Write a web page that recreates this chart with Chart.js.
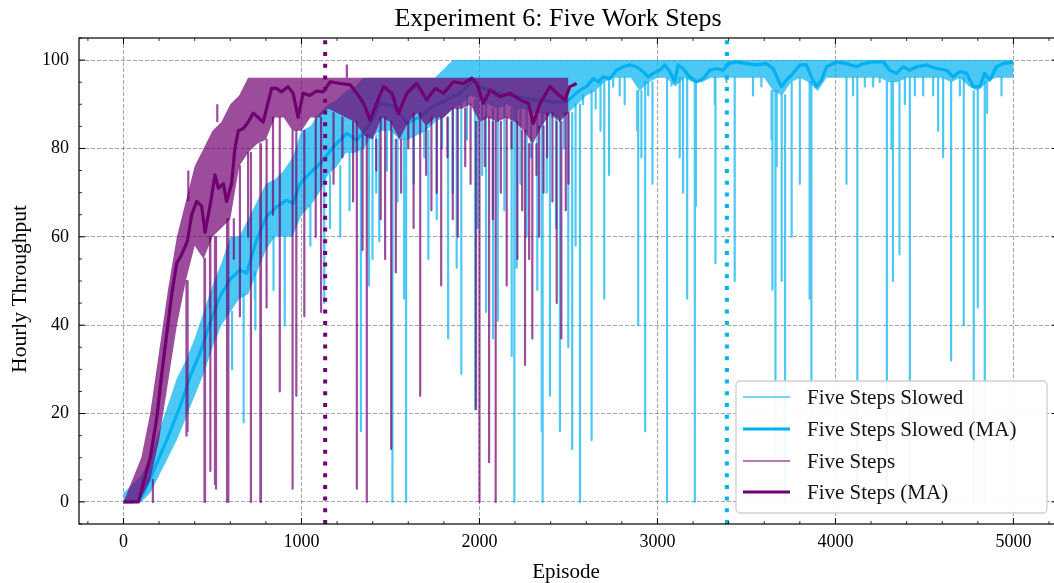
<!DOCTYPE html>
<html>
<head>
<meta charset="utf-8">
<title>Experiment 6: Five Work Steps</title>
<script src="https://cdn.jsdelivr.net/npm/chart.js@4.4.1/dist/chart.umd.min.js"></script>
<style>
  html, body { margin: 0; padding: 0; background: #fff; }
  #chart { display: block; }
</style>
</head>
<body>
<canvas id="chart" width="1054" height="583"></canvas>
<script>
// axis ticks
var xTicks = [0, 1000, 2000, 3000, 4000, 5000];
var yTicks = [0, 20, 40, 60, 80, 100];

// moving averages (episode, throughput)
var slowMaEp = [0, 50, 90, 120, 168, 243, 318, 374, 430, 486, 542, 598, 654, 692, 748, 804, 860, 916, 953, 991,
  1047, 1105, 1180, 1255, 1311, 1386, 1442, 1517, 1592, 1667, 1741, 1816, 1891, 1966, 2000, 2060, 2120, 2180, 2240, 2300,
  2360, 2420, 2490, 2564, 2601, 2639, 2667, 2695, 2732, 2770, 2807, 2845, 2882, 2919, 2948, 2976, 3013, 3041, 3069, 3097,
  3116, 3144, 3182, 3219, 3257, 3294, 3332, 3369, 3397, 3444, 3500, 3556, 3612, 3650, 3678, 3697, 3725, 3762, 3800, 3837,
  3865, 3893, 3922, 3950, 4006, 4062, 4118, 4156, 4212, 4268, 4305, 4343, 4380, 4418, 4455, 4511, 4568, 4624, 4661, 4699,
  4736, 4774, 4811, 4839, 4867, 4905, 4942, 4999];
var slowMa = [0, 0, 0.5, 2.5, 7, 14, 21.6, 28.4, 33.7, 40.5, 46.5, 50.3, 52.5, 51.8, 59.3, 64.6, 66.8, 68.3, 67.6, 72,
  74.4, 76.6, 80.4, 83.4, 81.9, 85.7, 90.2, 89.6, 85.7, 87.2, 89.6, 91, 92.5, 95.5, 94, 93, 92.5, 92, 91.5, 91,
  91, 90.5, 90.6, 93.2, 94, 95.8, 95.1, 96.2, 95.8, 97.7, 98.5, 98.9, 98.5, 97.4, 96.2, 97, 97.7, 98.9, 97.4, 95.1,
  98.9, 98.1, 96.2, 95.1, 95.8, 97.7, 98.1, 97.7, 99.2, 99.6, 99.2, 98.9, 99.2, 98.1, 95.5, 94, 95.5, 97, 98.9, 98.9,
  96.2, 94, 95.5, 98.5, 99.6, 99.2, 98.5, 99.2, 99.6, 99.6, 97.7, 97, 98.5, 97.7, 98.5, 98.9, 98.1, 97.7, 96.2, 97.4,
  97, 94, 94, 97, 95.5, 98.5, 99.2, 99.6];

var fiveMaEp = [0, 84, 112, 150, 187, 215, 243, 271, 299, 327, 359, 383, 411, 439, 458, 486, 514, 533, 561, 579,
  607, 626, 645, 673, 701, 729, 757, 785, 804, 832, 860, 888, 925, 953, 981, 1009, 1047, 1084, 1121, 1162,
  1218, 1274, 1311, 1349, 1386, 1414, 1461, 1508, 1545, 1592, 1648, 1704, 1751, 1798, 1854, 1910, 1957, 1985, 2022, 2060,
  2116, 2172, 2228, 2275, 2303, 2340, 2396, 2434, 2480, 2508, 2546];
var fiveMa = [0, 0, 4.3, 10, 19, 29, 38, 47, 54, 56, 59, 65, 68, 67, 61, 67, 74, 71, 72, 68,
  72, 80, 84, 84.5, 86, 88, 87, 86, 89, 93.6, 93.6, 92.8, 94, 92.5, 87, 92.5, 92, 93, 92.8, 95.1,
  94.7, 94.4, 92.5, 90.2, 86.4, 89.4, 94, 92.5, 87.9, 92.5, 94.7, 91, 93.6, 92.5, 95.1, 94.7, 95.9, 94.7, 90.2, 93.2,
  91.7, 92.5, 91, 90.2, 85.7, 90.2, 94, 92.5, 91, 94, 94.7];

// raw episodes: upper / lower edge of the noise every 50 episodes
var bandStep = 50;
var slowHi = [2, 4, 6, 10, 16, 22, 28, 32, 37, 43, 49, 54, 60, 60, 64, 68, 72, 73, 75, 78,
  84, 85, 88, 90, 91, 93, 94, 96, 96, 96, 96, 96, 96, 96, 96, 96, 98, 100, 100, 100,
  100, 100, 100, 100, 100, 100, 100, 100, 100, 100, 100, 100, 100, 100, 100, 100, 100, 100, 100, 100,
  100, 100, 100, 100, 100, 100, 100, 100, 100, 100, 100, 100, 100, 100, 100, 100, 100, 100, 100, 100,
  100, 100, 100, 100, 100, 100, 100, 100, 100, 100, 100, 100, 100, 100, 100, 100, 100, 100, 100, 100, 100];
var slowLo = [0, 0, 0, 2, 6, 10, 14, 19, 24, 29, 35, 40, 43, 46, 47, 52, 57, 60, 60, 60,
  65, 67, 70, 74, 76, 79, 79, 80, 83, 84, 84, 82, 82, 83, 84, 86, 87, 89, 90, 92,
  91, 90, 89, 90, 89, 89, 88, 88, 87, 87, 88, 90, 92, 93, 95, 96, 96, 96, 93, 95,
  96, 96, 94, 96, 95, 95, 96, 96, 96, 96, 96, 96, 96, 93, 92, 95, 96, 95, 93, 96,
  96, 96, 96, 96, 96, 96, 95, 95, 96, 96, 96, 96, 96, 95, 96, 94, 93, 95, 96, 96, 96];
var fiveHi = [0, 5, 10, 20, 34, 48, 60, 68, 76, 80, 84, 86, 90, 92, 96, 96, 96, 96, 96, 96,
  96, 96, 96, 96, 96, 96, 96, 96, 96, 96, 96, 96, 96, 96, 96, 96, 96, 96, 96, 96,
  96, 96, 96, 96, 96, 96, 96, 96, 96, 96, 96];
var fiveLo = [0, 0, 1, 5, 14, 27, 40, 50, 58, 55, 60, 62, 64, 76, 79, 81, 82, 87, 87, 84,
  84, 87, 87, 89, 88, 87, 86, 83, 82, 87, 86, 82, 86, 88, 85, 87, 87, 89, 89, 90,
  86, 87, 86, 87, 86, 84, 81, 85, 88, 86, 88];

// single episodes far outside the band (episode, throughput)
var slowSpikes = [[355, 19], [610, 30], [675, 18], [738, 46], [741, 39], [843, 48], [906, 40], [1050, 58], [1128, 45],
  [1160, 62], [1218, 60], [1270, 66], [1334, 16], [1379, 49], [1399, 55], [1420, 70], [1437, 59], [1480, 75], [1511, 0],
  [1540, 68], [1577, 46], [1588, 0], [1630, 72], [1690, 78], [1713, 55], [1760, 64], [1790, 80], [1824, 37], [1850, 70],
  [1872, 53], [1898, 29], [1930, 82], [1975, 21], [1990, 62], [2015, 74], [2037, 43], [2076, 37], [2103, 41], [2140, 66],
  [2181, 33], [2196, 0], [2209, 53], [2230, 72], [2265, 60], [2290, 78], [2325, 48], [2350, 16], [2355, 0], [2378, 70],
  [2396, 24], [2430, 62], [2452, 16], [2475, 80], [2499, 35], [2521, 12], [2540, 58], [2565, 0], [2582, 90], [2601, 92],
  [2630, 14], [2653, 89], [2680, 84], [2701, 46], [2728, 74], [2751, 94], [2788, 92], [2816, 90], [2886, 84], [2892, 40],
  [2910, 78], [2931, 16], [2948, 92], [2972, 72], [3054, 0], [3079, 95], [3125, 78], [3144, 70], [3167, 46], [3182, 95],
  [3210, 0], [3216, 67], [3322, 90], [3326, 54], [3388, 95], [3434, 50], [3537, 92], [3584, 94], [3641, 82], [3646, 48],
  [3663, 10], [3670, 76], [3698, 50], [3717, 0], [3754, 60], [3800, 72], [3855, 46], [3865, 20], [4062, 72], [4099, 92],
  [4123, 0], [4165, 94], [4212, 94], [4249, 95], [4289, 0], [4315, 80], [4323, 50], [4360, 56], [4390, 90], [4418, 0],
  [4446, 92], [4493, 92], [4549, 92], [4577, 84], [4605, 78], [4650, 32], [4699, 92], [4721, 40], [4777, 0], [4800, 44],
  [4839, 0], [4852, 88], [4933, 92]];
var fiveSpikes = [[165, 0], [354, 15], [360, 16], [364, 75], [455, 0], [458, 0], [486, 44], [488, 7], [514, 4],
  [520, 3], [527, 90], [582, 0], [589, 0], [620, 55], [654, 42], [700, 60], [716, 0], [769, 0], [772, 0], [804, 44],
  [840, 65], [878, 25], [950, 3], [971, 24], [1016, 42], [1080, 60], [1110, 43], [1180, 72], [1230, 78], [1255, 99],
  [1290, 68], [1311, 3], [1343, 57], [1367, 0], [1420, 75], [1445, 64], [1470, 55], [1504, 12], [1530, 52], [1560, 70],
  [1600, 80], [1630, 62], [1667, 24], [1700, 74], [1730, 66], [1760, 70], [1785, 49], [1820, 78], [1850, 64], [1878, 60],
  [1920, 76], [1950, 72], [1981, 21], [2000, 0], [2030, 76], [2054, 9], [2075, 64], [2091, 0], [2120, 70], [2153, 49],
  [2180, 80], [2213, 55], [2240, 66], [2256, 31], [2279, 55], [2297, 37], [2320, 74], [2335, 60], [2360, 70], [2380, 78],
  [2410, 68], [2434, 45], [2460, 37], [2485, 66], [2500, 72]];

// vertical markers
var slowMarker = 3390;
var fiveMarker = 1133;

// visible x window; the axes box itself ends at X_LIMIT, just past the canvas edge
var X_MIN = -250, X_MAX = 5228, X_LIMIT = 5250, Y_MIN = -5, Y_MAX = 105;
var SLOW = 'rgb(0,176,240)', SLOW_RAW = 'rgba(0,176,240,0.7)';
var FIVE = 'rgb(112,0,112)', FIVE_RAW = 'rgba(112,0,112,0.7)';
var FONT = '"Liberation Serif", "Times New Roman", serif';

function pairs(eps, vals) {
  return eps.map(function (e, i) { return { x: e, y: vals[i] }; });
}
function bandLine(vals) {
  return vals.map(function (v, i) { return { x: i * bandStep, y: v }; });
}
function spikeLines(spikes, hi, lo) {
  var pts = [];
  spikes.forEach(function (s) {
    var k = Math.min(Math.round(s[0] / bandStep), lo.length - 1);
    var base = s[1] > hi[k] ? hi[k] : lo[k];
    pts.push({ x: s[0], y: base }, { x: s[0], y: s[1] }, { x: s[0], y: null });
  });
  return pts;
}
function marker(x) {
  return [{ x: x, y: Y_MIN }, { x: x, y: Y_MAX }];
}

var flat = { pointRadius: 0, tension: 0, borderJoinStyle: 'round' };
function ds(extra) { return Object.assign({}, flat, extra); }
var edge = { borderColor: 'rgba(0,0,0,0)', borderWidth: 1 };

var datasets = [
  ds(Object.assign({ data: bandLine(slowHi), fill: false, order: 9 }, edge)),
  ds(Object.assign({ data: bandLine(slowLo), fill: '-1', backgroundColor: SLOW_RAW, order: 9 }, edge)),
  ds({ label: 'Five Steps Slowed', legend: true, legendWidth: 1.5, data: spikeLines(slowSpikes, slowHi, slowLo),
    borderColor: SLOW_RAW, borderWidth: 2.2, fill: false, order: 8 }),
  ds({ label: 'Five Steps Slowed (MA)', legend: true, legendWidth: 3.2, data: pairs(slowMaEp, slowMa),
    borderColor: SLOW, borderWidth: 3.2, fill: false, order: 7 }),
  ds(Object.assign({ data: bandLine(fiveHi), fill: false, order: 6 }, edge)),
  ds(Object.assign({ data: bandLine(fiveLo), fill: '-1', backgroundColor: FIVE_RAW, order: 6 }, edge)),
  ds({ label: 'Five Steps', legend: true, legendWidth: 1.5, data: spikeLines(fiveSpikes, fiveHi, fiveLo),
    borderColor: FIVE_RAW, borderWidth: 2.2, fill: false, order: 5 }),
  ds({ label: 'Five Steps (MA)', legend: true, legendWidth: 3.2, data: pairs(fiveMaEp, fiveMa),
    borderColor: FIVE, borderWidth: 3.2, fill: false, order: 4 }),
  ds({ data: marker(fiveMarker), borderColor: FIVE, borderWidth: 4, borderDash: [4, 7.7], borderCapStyle: 'butt', fill: false, order: 1 }),
  ds({ data: marker(slowMarker), borderColor: SLOW, borderWidth: 4, borderDash: [4, 7.7], borderCapStyle: 'butt', fill: false, order: 1 })
];

// frame with inward ticks on all four sides, titles and the legend box
var decorations = {
  id: 'decorations',
  afterDatasetsDraw: function (chart) {
    var ctx = chart.ctx, a = chart.chartArea, xs = chart.scales.x, ys = chart.scales.y;
    var right = xs.getPixelForValue(X_LIMIT);
    ctx.save();
    ctx.strokeStyle = '#000';
    function xTick(v, len, w) {
      var p = xs.getPixelForValue(v);
      ctx.lineWidth = w;
      ctx.beginPath();
      ctx.moveTo(p, a.bottom); ctx.lineTo(p, a.bottom - len);
      ctx.moveTo(p, a.top); ctx.lineTo(p, a.top + len);
      ctx.stroke();
    }
    function yTick(v, len, w) {
      var p = ys.getPixelForValue(v);
      ctx.lineWidth = w;
      ctx.beginPath();
      ctx.moveTo(a.left, p); ctx.lineTo(a.left + len, p);
      ctx.moveTo(right, p); ctx.lineTo(right - len, p);
      ctx.stroke();
    }
    var v;
    for (v = -200; v <= 5200; v += 200) {
      if (xTicks.indexOf(v) < 0) xTick(v, 3, 0.8);
    }
    for (v = -5; v <= 105; v += 5) {
      if (yTicks.indexOf(v) < 0) yTick(v, 3, 0.8);
    }
    xTicks.forEach(function (t) { xTick(t, 6, 1); });
    yTicks.forEach(function (t) { yTick(t, 6, 1); });
    ctx.lineWidth = 1.2;
    ctx.strokeRect(a.left, a.top, right - a.left, a.bottom - a.top);
    ctx.restore();
  },
  afterDraw: function (chart) {
    var ctx = chart.ctx;
    ctx.save();
    ctx.fillStyle = '#000';
    ctx.textAlign = 'center';
    ctx.textBaseline = 'alphabetic';
    ctx.font = '26px ' + FONT;
    ctx.fillText('Experiment 6: Five Work Steps', 558, 26);
    ctx.font = '21px ' + FONT;
    ctx.fillText('Episode', 566, 578);
    ctx.save();
    ctx.translate(26, 289);
    ctx.rotate(-Math.PI / 2);
    ctx.font = '21.5px ' + FONT;
    ctx.fillText('Hourly Throughput', 0, 0);
    ctx.restore();

    // legend
    var bx = 736, by = 381, bw = 311, bh = 132, r = 4;
    ctx.beginPath();
    ctx.moveTo(bx + r, by);
    ctx.arcTo(bx + bw, by, bx + bw, by + bh, r);
    ctx.arcTo(bx + bw, by + bh, bx, by + bh, r);
    ctx.arcTo(bx, by + bh, bx, by, r);
    ctx.arcTo(bx, by, bx + bw, by, r);
    ctx.closePath();
    ctx.fillStyle = 'rgba(255,255,255,0.92)';
    ctx.fill();
    ctx.strokeStyle = '#cfcfcf';
    ctx.lineWidth = 1.3;
    ctx.stroke();
    var rows = [397, 429, 461, 492];
    var items = chart.data.datasets.filter(function (d) { return d.legend; });
    ctx.font = '21px ' + FONT;
    ctx.textAlign = 'left';
    ctx.textBaseline = 'middle';
    items.forEach(function (d, i) {
      ctx.strokeStyle = d.borderColor;
      ctx.lineWidth = d.legendWidth;
      ctx.beginPath();
      ctx.moveTo(743, rows[i]);
      ctx.lineTo(790, rows[i]);
      ctx.stroke();
      ctx.fillStyle = '#111';
      ctx.fillText(d.label, 807, rows[i] + 1);
    });
    ctx.restore();
  }
};

var tickFont = { family: FONT, size: 18 };
new Chart(document.getElementById('chart'), {
  type: 'line',
  data: { datasets: datasets },
  options: {
    responsive: false,
    animation: false,
    devicePixelRatio: 1,
    events: [],
    layout: { padding: { top: 38, right: 0, bottom: 0, left: 0 } },
    plugins: { legend: { display: false }, tooltip: { enabled: false }, title: { display: false } },
    scales: {
      x: {
        type: 'linear', min: X_MIN, max: X_MAX,
        afterBuildTicks: function (s) { s.ticks = xTicks.map(function (t) { return { value: t }; }); },
        afterFit: function (s) { s.height = 59; },
        ticks: { font: tickFont, color: '#000', padding: 7, maxRotation: 0, autoSkip: false,
          callback: function (v) { return String(v); } },
        grid: { color: 'rgba(0,0,0,0.45)', lineWidth: 0.8, drawTicks: false },
        border: { display: false, dash: [4, 2] }
      },
      y: {
        type: 'linear', min: Y_MIN, max: Y_MAX,
        afterBuildTicks: function (s) { s.ticks = yTicks.map(function (t) { return { value: t }; }); },
        afterFit: function (s) { s.width = 79; },
        ticks: { font: tickFont, color: '#000', padding: 10, autoSkip: false,
          callback: function (v) { return String(v); } },
        grid: { color: 'rgba(0,0,0,0.45)', lineWidth: 0.8, drawTicks: false },
        border: { display: false, dash: [4, 2] }
      }
    }
  },
  plugins: [decorations]
});
</script>
</body>
</html>
